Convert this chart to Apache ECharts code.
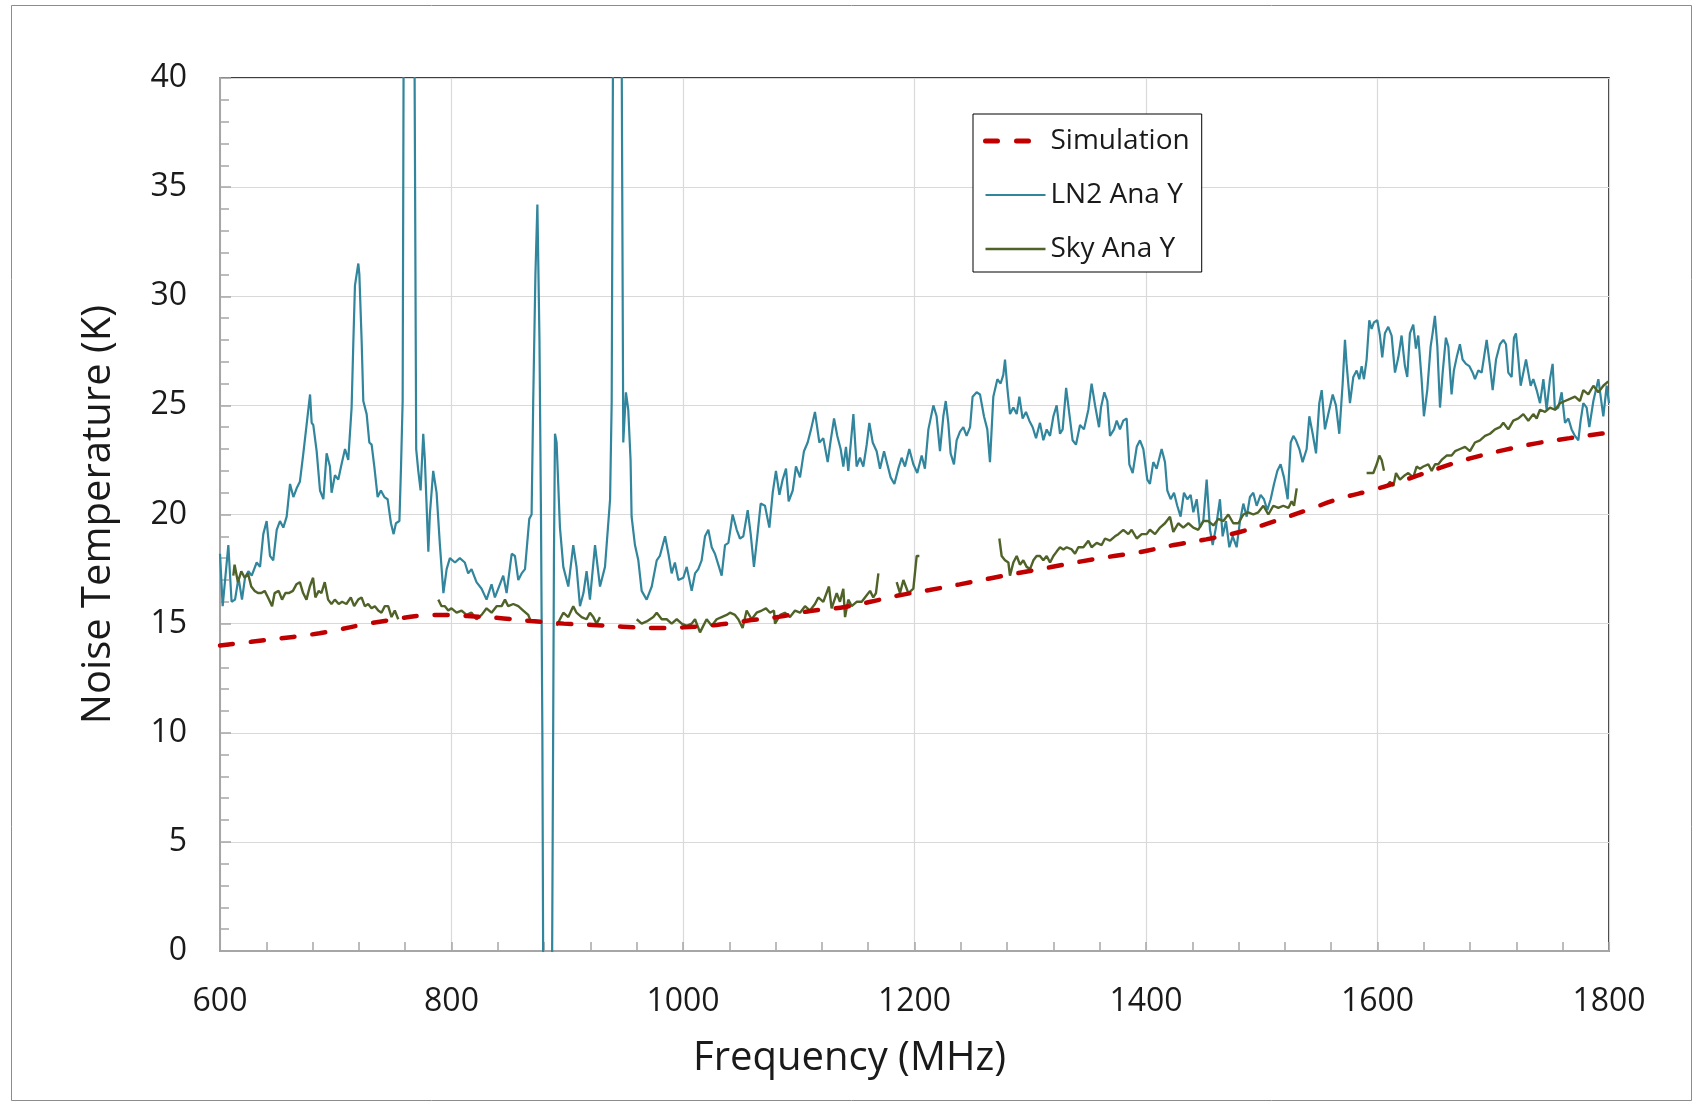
<!DOCTYPE html>
<html>
<head>
<meta charset="utf-8">
<script src="https://cdn.jsdelivr.net/npm/echarts@6/dist/echarts.min.js"></script>
<style>
  html, body { margin: 0; padding: 0; background: #fff; }
  #chart { width: 1693px; height: 1104px; }
</style>
</head>
<body>
<div id="chart"></div>
<script>
// ---- Data ----
const xTicks = [600, 800, 1000, 1200, 1400, 1600, 1800];
const yTicks = [0, 5, 10, 15, 20, 25, 30, 35, 40];

const simFreq = [600, 640, 686, 738, 790, 813, 845, 869, 897, 922, 948, 976, 1000, 1029, 1055, 1084, 1110, 1136, 1162, 1187, 1213, 1239, 1265, 1291, 1317, 1343, 1369, 1395, 1424, 1452, 1481, 1510, 1539, 1568, 1598, 1628, 1657, 1680, 1709, 1737, 1766, 1791, 1800];
const simTemp = [14.0, 14.25, 14.56, 15.09, 15.4, 15.35, 15.24, 15.12, 15.0, 14.94, 14.86, 14.8, 14.83, 14.94, 15.13, 15.32, 15.58, 15.73, 16.0, 16.3, 16.54, 16.8, 17.07, 17.33, 17.58, 17.84, 18.07, 18.28, 18.6, 18.86, 19.2, 19.67, 20.2, 20.74, 21.15, 21.66, 22.19, 22.57, 22.95, 23.26, 23.5, 23.69, 23.75];

const ln2Freq = [600, 602.3, 607.2, 610, 613, 616, 619, 621.6, 624.5, 627.4, 631.7, 634.6, 637.4, 640.3, 643.2, 646, 649, 651.8, 654.7, 657.6, 660.5, 663.4, 666.2, 669, 672, 675, 677.8, 679.2, 680.6, 683.5, 686.4, 689.3, 692.1, 695, 696.4, 699.3, 702.2, 705, 708, 710.8, 713.7, 715.2, 716.6, 719.5, 720.4, 722.4, 723.8, 726.7, 729, 731, 733.3, 736.2, 739, 742, 744.8, 747.7, 750, 752, 755, 756.4, 757.8, 759, 767.5, 769.5, 771.3, 773.3, 775.6, 777, 780, 781.3, 784.2, 787.1, 790, 793, 795.8, 798.6, 803, 807.2, 811.5, 814.4, 817.3, 821.6, 826, 830.3, 834.6, 837.5, 840.4, 844.7, 847.6, 852, 854.8, 857.7, 860.6, 863.5, 867.2, 869.2, 870.6, 872.5, 874.2, 876, 877.3, 878.5, 879.5, 886.5, 887.4, 888.5, 889.4, 890.8, 893.7, 896.6, 900.9, 905.2, 908, 911, 914, 916.7, 919.6, 924, 928.3, 932.6, 937, 938.4, 940, 946.5, 948.4, 950.7, 952.7, 954.7, 955.6, 958.5, 961.4, 964.3, 968.6, 973, 977.3, 980, 984.5, 987.4, 990.2, 993, 996, 1000.3, 1003.2, 1007.5, 1010.4, 1013.2, 1016.1, 1019, 1021.9, 1024.8, 1027.6, 1030.5, 1033.4, 1036.3, 1039.2, 1042.9, 1046.4, 1049.2, 1052.1, 1055.9, 1058.5, 1061.3, 1064.2, 1067.1, 1070.8, 1074.6, 1077.5, 1080.3, 1083.3, 1086.1, 1089, 1091.3, 1094.8, 1097.6, 1101.1, 1104.5, 1107.7, 1110.6, 1114, 1117.8, 1121.2, 1125, 1127.6, 1130.5, 1133.3, 1136.2, 1138.5, 1140.8, 1142.8, 1145.7, 1147.2, 1150, 1152.9, 1155.8, 1158.7, 1161, 1163.9, 1167.3, 1170.2, 1173.7, 1176.5, 1179.4, 1182.6, 1186, 1188.9, 1191.8, 1195.5, 1199, 1202.4, 1206.2, 1209, 1212, 1216.3, 1219.1, 1222, 1224.9, 1227, 1229.2, 1231.2, 1234.1, 1236.4, 1239.3, 1242.2, 1245, 1248, 1250.2, 1253.7, 1256.6, 1260, 1262.9, 1265.2, 1268.1, 1271.6, 1274.4, 1276.7, 1278.2, 1280.2, 1282.5, 1285.4, 1288.3, 1290.6, 1293.4, 1296.3, 1299.2, 1302.1, 1305, 1308.4, 1311.3, 1314.2, 1317.1, 1320, 1322.8, 1325.7, 1328, 1331, 1333.8, 1336.6, 1339.5, 1343, 1346.4, 1350.2, 1353, 1356, 1359.4, 1361.1, 1364, 1366.6, 1368.9, 1372.4, 1374.7, 1377.5, 1380.4, 1383.3, 1385.6, 1388.5, 1392, 1394.8, 1397.7, 1401.1, 1403.4, 1406.3, 1409.2, 1413.5, 1416.4, 1418.4, 1421.3, 1424.2, 1427, 1429.9, 1432.8, 1435.7, 1438.6, 1440.9, 1443.8, 1446.6, 1449.5, 1452.4, 1455.3, 1457.6, 1460.4, 1463.9, 1466.2, 1469.1, 1472, 1474.9, 1478.3, 1481.2, 1484.1, 1487, 1489.8, 1492.7, 1495.6, 1499, 1501.9, 1504.8, 1507.7, 1510.6, 1513.5, 1516.3, 1519.2, 1522.4, 1525, 1527.3, 1529.6, 1532.5, 1535.3, 1538.8, 1541.1, 1544, 1546.9, 1549.7, 1551.8, 1554.6, 1557.5, 1561.3, 1564.1, 1567, 1569.9, 1571.9, 1573.3, 1576.2, 1579.1, 1582, 1584.3, 1586.3, 1588.3, 1590.6, 1592.9, 1594.9, 1596.9, 1599.8, 1602.1, 1604.1, 1606.4, 1609.3, 1612.2, 1615.1, 1618, 1620.8, 1623.7, 1625.7, 1628, 1630.9, 1633.2, 1635.2, 1638.1, 1640.1, 1643, 1645.9, 1647.6, 1649.6, 1651.7, 1654, 1656.3, 1659.1, 1661.2, 1664, 1666, 1668.4, 1671.2, 1673.5, 1676.4, 1679.3, 1682.2, 1684.2, 1687.1, 1690, 1692.3, 1694.3, 1697.2, 1699.5, 1702.4, 1705.8, 1708.7, 1711, 1713, 1715.9, 1717.9, 1719.6, 1721.6, 1723.7, 1726, 1728.3, 1730.3, 1732.3, 1734.6, 1737.5, 1740.4, 1743.3, 1746.1, 1749, 1751.3, 1753.3, 1756.2, 1759.1, 1762, 1764.9, 1767.7, 1770.6, 1773.5, 1775.5, 1777.8, 1780.7, 1783, 1786.5, 1790.8, 1795.1, 1798, 1800];
const ln2Temp = [18.2, 15.8, 18.6, 16.0, 16.1, 17.1, 16.1, 17.1, 17.4, 17.2, 17.8, 17.6, 19.1, 19.7, 18.1, 17.9, 19.3, 19.7, 19.4, 19.9, 21.4, 20.8, 21.2, 21.5, 22.8, 24.2, 25.5, 24.2, 24.1, 22.9, 21.1, 20.7, 22.8, 22.2, 21.0, 21.8, 21.6, 22.3, 23.0, 22.5, 24.9, 27.9, 30.5, 31.5, 31.0, 27.9, 25.2, 24.6, 23.3, 23.2, 22.2, 20.8, 21.1, 20.8, 20.7, 19.6, 19.1, 19.6, 19.7, 22.2, 25.2, 48, 48, 23.0, 22.0, 21.1, 23.7, 22.5, 18.3, 20.0, 22.0, 21.0, 18.6, 16.4, 17.5, 18.0, 17.8, 18.0, 17.8, 17.3, 17.5, 16.9, 16.6, 16.1, 16.8, 16.2, 16.6, 17.2, 16.4, 18.2, 18.1, 17.0, 17.3, 17.5, 19.8, 20.0, 25.2, 31.0, 34.2, 28.0, 20.0, 10.0, -5, -5, 5, 18.0, 23.7, 23.3, 19.4, 17.6, 16.7, 18.6, 17.6, 15.8, 16.4, 17.4, 16.1, 18.6, 16.7, 17.6, 20.7, 25.2, 48, 48, 23.3, 25.6, 24.8, 22.5, 19.9, 18.6, 17.9, 16.5, 16.1, 16.7, 17.9, 18.1, 19.0, 18.2, 17.3, 17.8, 17.0, 17.1, 17.6, 16.5, 17.3, 17.5, 17.9, 19.0, 19.3, 18.5, 18.2, 17.7, 17.2, 18.6, 18.7, 20.0, 19.3, 18.9, 19.0, 20.2, 19.1, 17.6, 19.0, 20.5, 20.4, 19.4, 21.0, 22.0, 20.9, 21.6, 22.1, 20.6, 21.1, 22.2, 21.7, 22.9, 23.3, 23.9, 24.7, 23.3, 23.5, 22.4, 23.4, 24.4, 23.6, 23.0, 22.2, 23.1, 22.0, 23.7, 24.6, 22.2, 22.6, 22.2, 23.2, 24.2, 23.3, 22.9, 22.1, 22.9, 22.3, 21.7, 21.4, 22.1, 22.6, 22.2, 23.0, 22.3, 21.9, 22.7, 22.1, 23.9, 25.0, 24.5, 22.9, 24.5, 25.2, 24.2, 22.8, 22.3, 23.4, 23.8, 24.0, 23.6, 24.0, 25.4, 25.6, 25.5, 24.5, 23.9, 22.4, 25.4, 26.2, 26.0, 26.4, 27.1, 25.8, 24.6, 24.9, 24.6, 25.4, 24.4, 24.7, 24.3, 24.0, 23.5, 24.2, 23.4, 23.9, 23.6, 24.5, 25.0, 23.7, 23.9, 25.8, 24.6, 23.4, 23.2, 24.1, 23.9, 24.8, 26.0, 25.0, 24.0, 24.9, 25.6, 25.2, 23.6, 23.9, 24.3, 23.9, 24.3, 24.4, 22.3, 21.9, 23.1, 23.4, 23.0, 21.6, 21.4, 22.4, 22.1, 23.0, 22.4, 21.1, 20.7, 21.0, 20.4, 19.9, 21.0, 20.7, 20.9, 20.1, 20.7, 19.4, 19.7, 21.6, 19.3, 18.6, 19.4, 20.7, 19.0, 19.7, 18.5, 19.0, 18.5, 19.7, 20.5, 19.9, 20.8, 21.0, 20.4, 20.9, 20.7, 20.2, 20.7, 21.4, 22.0, 22.3, 21.7, 20.7, 23.3, 23.6, 23.4, 23.0, 22.4, 23.0, 24.5, 23.7, 22.8, 25.1, 25.7, 23.9, 24.6, 25.5, 25.0, 23.7, 26.0, 28.0, 26.9, 25.1, 26.3, 26.6, 26.2, 26.8, 26.2, 27.1, 28.9, 28.5, 28.8, 28.9, 28.2, 27.2, 28.3, 28.6, 28.2, 26.5, 27.2, 28.2, 26.8, 26.3, 28.3, 28.7, 27.6, 28.2, 26.2, 24.5, 25.7, 27.7, 28.3, 29.1, 27.7, 24.9, 26.5, 28.1, 27.7, 25.5, 26.6, 27.2, 27.8, 27.1, 26.9, 26.8, 26.5, 26.2, 26.6, 26.5, 27.3, 28.0, 26.8, 25.7, 27.1, 27.8, 28.0, 27.8, 26.5, 26.3, 28.1, 28.3, 27.2, 25.9, 26.5, 27.1, 26.5, 25.9, 26.2, 25.7, 25.1, 26.2, 24.8, 26.2, 26.9, 24.8, 24.9, 25.6, 24.2, 24.4, 23.9, 23.6, 23.4, 24.3, 25.1, 24.9, 24.0, 25.2, 26.2, 24.5, 25.9, 25.1];

// null marks a gap between measured segments
const skyFreq = [611.5, 612.6, 615.5, 618.4, 621.3, 624.2, 627, 630, 632.8, 635.7, 638.6, 641.5, 645, 647.2, 650.7, 653.6, 656.5, 659.4, 663, 666, 669, 671.8, 674.7, 677.6, 680.4, 682.4, 685.3, 687.6, 690.5, 693.4, 696.3, 699.2, 702.6, 705.5, 709.2, 713, 715.9, 719.4, 722.3, 725.1, 728, 730.9, 733.8, 736.7, 739.5, 742.4, 745.3, 748.2, 751, 754, 770,
  788.6, 791.4, 794.3, 797.2, 800, 804.4, 808.7, 813, 817.3, 821.6, 826, 830.3, 834.6, 839, 843.3, 846.2, 849, 853.4, 857.7, 862, 866.3, 867.8, 880,
  890.8, 893.7, 896.6, 900.9, 905.2, 908, 912.4, 916.7, 919.6, 922.5, 925.4, 928.3, 945,
  960, 964.3, 968.6, 974.4, 977.3, 981.6, 985.9, 990.2, 994.6, 998.9, 1003.2, 1007.5, 1010.4, 1014.7, 1020.4, 1024.8, 1029.1, 1033.4, 1037.7, 1040.6, 1044.9, 1047.8, 1051.5, 1055, 1059.3, 1063.6, 1068, 1071.7, 1075.2, 1078.6, 1079.5, 1084, 1088, 1092.4, 1096.8, 1101.1, 1105.4, 1109.7, 1114, 1116.9, 1121.2, 1126.1, 1128.4, 1132.8, 1135.6, 1138.5, 1140, 1142.8, 1145.7, 1150, 1154.4, 1157.2, 1161.6, 1164.4, 1166.7, 1168.8, 1176,
  1184.6, 1187.5, 1190.4, 1194.7, 1199, 1201.9, 1204.2, 1240,
  1273.3, 1275.3, 1278.2, 1281.1, 1282.5, 1285.4, 1288.3, 1291.1, 1294, 1296.9, 1299.8, 1302.7, 1305.5, 1308.4, 1311.3, 1314.2, 1317.1, 1320, 1322.8, 1325.7, 1328.6, 1331.5, 1335.8, 1338.7, 1341.5, 1345.9, 1350.2, 1353, 1357.4, 1361.7, 1364.6, 1368.9, 1373.2, 1376.1, 1380.4, 1384.7, 1387.6, 1392, 1396.3, 1400.6, 1403.4, 1407.8, 1412.1, 1416.4, 1420.7, 1423.6, 1427.9, 1432.2, 1436.6, 1440.9, 1445.2, 1449.5, 1453.8, 1458.2, 1462.5, 1466.8, 1471.1, 1475.4, 1479.8, 1484.1, 1488.4, 1492.7, 1497, 1501.4, 1505.7, 1510, 1514.3, 1518.6, 1523, 1525.8, 1527.9, 1530.2, 1560,
  1590.6, 1596.4, 1599.3, 1601.6, 1603.6, 1605.6, 1606.8,
  1607.9, 1610.8, 1613.7, 1616, 1619.4, 1623.7, 1626.6, 1630.9, 1633.8, 1636.7, 1639.6, 1643.9, 1646.8, 1649.7, 1652.5, 1655.4, 1659.7, 1664, 1667, 1671.3, 1675.6, 1679.9, 1684.2, 1688.5, 1692.9, 1697.2, 1701.5, 1705.8, 1708.7, 1713, 1717.3, 1721.7, 1726, 1730.3, 1734.6, 1737.5, 1740.4, 1744.7, 1749, 1753.3, 1757.7, 1762, 1766.3, 1770.6, 1774.9, 1777.8, 1782.1, 1786.5, 1790.8, 1795.1, 1799.4];
const skyTemp = [17.2, 17.7, 16.9, 17.4, 17.1, 17.3, 16.7, 16.5, 16.4, 16.4, 16.5, 16.2, 15.8, 16.4, 16.5, 16.1, 16.4, 16.4, 16.5, 16.8, 16.9, 16.4, 16.1, 16.7, 17.1, 16.2, 16.5, 16.4, 16.9, 16.1, 15.9, 16.1, 15.9, 16.0, 15.9, 16.2, 15.8, 16.1, 16.2, 15.8, 15.9, 15.7, 15.8, 15.6, 15.5, 15.8, 15.8, 15.3, 15.6, 15.2, null,
  16.1, 15.8, 15.8, 15.6, 15.7, 15.5, 15.6, 15.4, 15.5, 15.2, 15.4, 15.7, 15.5, 15.8, 15.8, 16.1, 15.8, 15.9, 15.8, 15.6, 15.4, 15.2, null,
  14.9, 15.2, 15.5, 15.3, 15.8, 15.5, 15.3, 15.2, 15.5, 15.3, 15.0, 15.3, null,
  15.2, 15.0, 15.1, 15.3, 15.5, 15.2, 15.2, 15.0, 15.2, 15.0, 14.9, 15.0, 15.2, 14.6, 15.2, 14.9, 15.2, 15.3, 15.4, 15.5, 15.4, 15.2, 14.8, 15.6, 15.2, 15.5, 15.6, 15.7, 15.5, 15.6, 15.0, 15.4, 15.5, 15.3, 15.6, 15.5, 15.8, 15.6, 15.9, 16.2, 16.0, 16.7, 15.7, 16.4, 16.0, 16.6, 15.3, 16.1, 15.8, 16.0, 16.0, 16.2, 16.5, 16.2, 16.4, 17.3, null,
  16.9, 16.4, 17.0, 16.4, 16.6, 18.1, 18.1, null,
  18.9, 18.1, 17.9, 17.8, 17.2, 17.8, 18.1, 17.7, 17.9, 17.6, 17.5, 17.9, 18.1, 18.1, 17.9, 18.1, 17.8, 18.1, 18.3, 18.5, 18.4, 18.5, 18.4, 18.2, 18.5, 18.5, 18.8, 18.5, 18.7, 18.6, 18.9, 18.8, 19.0, 19.1, 19.3, 19.1, 19.3, 18.9, 19.1, 19.1, 19.3, 19.1, 19.4, 19.6, 19.9, 19.2, 19.6, 19.4, 19.6, 19.4, 19.3, 19.7, 19.7, 19.5, 19.8, 19.7, 20.0, 19.6, 19.6, 20.0, 20.1, 20.0, 20.1, 20.4, 20.0, 20.4, 20.3, 20.4, 20.3, 20.6, 20.4, 21.2, null,
  21.9, 21.9, 22.3, 22.7, 22.5, 22.0, null,
  21.3, 21.5, 21.3, 21.9, 21.6, 21.8, 21.9, 21.7, 22.2, 22.1, 22.2, 22.3, 22.0, 22.3, 22.3, 22.5, 22.7, 22.7, 22.9, 23.0, 23.1, 22.9, 23.3, 23.4, 23.6, 23.7, 23.9, 24.0, 24.2, 23.9, 24.3, 24.4, 24.6, 24.3, 24.6, 24.4, 24.8, 24.7, 24.9, 24.8, 25.1, 25.2, 25.3, 25.4, 25.2, 25.7, 25.5, 25.9, 25.6, 25.9, 26.1];

const seriesNames = ['Simulation', 'LN2 Ana Y', 'Sky Ana Y'];

// ---- Build ----
function pairs(xs, ys) {
  return xs.map((x, i) => [x, ys[i] === null ? '-' : ys[i]]);
}

const chart = echarts.init(document.getElementById('chart'), null, { renderer: 'canvas' });
const FONT = '"Open Sans", "Noto Sans", sans-serif';

chart.setOption({
  animation: false,
  backgroundColor: '#ffffff',
  graphic: [{
    type: 'rect', z: -10, silent: true,
    shape: { x: 11.5, y: 5.5, width: 1680, height: 1095 },
    style: { fill: 'none', stroke: '#8c8c8c', lineWidth: 1 }
  }],
  grid: {
    left: 220, right: 84, top: 78, bottom: 153,
    show: true, borderColor: '#000', borderWidth: 1.5, backgroundColor: 'transparent'
  },
  legend: {
    orient: 'vertical',
    left: 973, top: 114,
    padding: [10, 12, 6, 10],
    backgroundColor: '#fff',
    borderColor: '#000', borderWidth: 1,
    itemWidth: 60, itemHeight: 14, itemGap: 20,
    itemStyle: { opacity: 0 },
    textStyle: { fontFamily: FONT, fontSize: 28, color: '#1a1a1a', lineHeight: 34 },
    data: [
      { name: seriesNames[0], lineStyle: { width: 5, type: [12, 19], cap: 'round', color: '#c00000' }, itemStyle: { opacity: 0 } },
      { name: seriesNames[1], lineStyle: { width: 2.2, color: '#31859c' }, itemStyle: { opacity: 0 } },
      { name: seriesNames[2], lineStyle: { width: 2.4, color: '#4f6228' }, itemStyle: { opacity: 0 } }
    ]
  },
  xAxis: {
    type: 'value', min: xTicks[0], max: xTicks[xTicks.length - 1], interval: 200,
    name: 'Frequency (MHz)', nameLocation: 'middle', nameGap: 88,
    nameTextStyle: { fontFamily: FONT, fontSize: 40, color: '#1a1a1a', padding: [0, 130, 0, 0] },
    axisLine: { show: true, onZero: false, lineStyle: { color: '#a6a6a6', width: 2 } },
    axisTick: { show: true, inside: true, length: 9, lineStyle: { color: '#a6a6a6', width: 1.5 } },
    minorTick: { show: true, splitNumber: 5, length: 9, lineStyle: { color: '#a6a6a6', width: 1.5 } },
    axisLabel: { fontFamily: FONT, fontSize: 32, color: '#1a1a1a', margin: 35, formatter: v => String(v) },
    splitLine: { show: true, lineStyle: { color: '#d9d9d9', width: 1.2 } }
  },
  yAxis: {
    type: 'value', min: yTicks[0], max: yTicks[yTicks.length - 1], interval: 5,
    name: 'Noise Temperature (K)', nameLocation: 'middle', nameGap: 101, nameRotate: 90,
    nameTextStyle: { fontFamily: FONT, fontSize: 40, color: '#1a1a1a' },
    axisLine: { show: true, lineStyle: { color: '#a6a6a6', width: 2 } },
    axisTick: { show: true, inside: true, length: 11, lineStyle: { color: '#a6a6a6', width: 1.5 } },
    minorTick: { show: true, splitNumber: 5, length: 9, lineStyle: { color: '#a6a6a6', width: 1.5 } },
    axisLabel: { fontFamily: FONT, fontSize: 32, color: '#1a1a1a', margin: 33, formatter: v => String(v) },
    splitLine: { show: true, lineStyle: { color: '#d9d9d9', width: 1.2 } }
  },
  series: [
    {
      name: seriesNames[0], type: 'line', z: 5,
      data: pairs(simFreq, simTemp), smooth: 0.4, showSymbol: false, symbol: 'none',
      lineStyle: { color: '#c00000', width: 4.5, type: [13, 18], cap: 'round' },
      itemStyle: { color: '#c00000' }
    },
    {
      name: seriesNames[1], type: 'line', z: 3, clip: true,
      data: pairs(ln2Freq, ln2Temp), showSymbol: false, symbol: 'none',
      lineStyle: { color: '#31859c', width: 2.2 },
      itemStyle: { color: '#31859c' }
    },
    {
      name: seriesNames[2], type: 'line', z: 4, clip: true, connectNulls: false,
      data: pairs(skyFreq, skyTemp), showSymbol: false, symbol: 'none',
      lineStyle: { color: '#4f6228', width: 2.4 },
      itemStyle: { color: '#4f6228' }
    }
  ]
});
</script>
</body>
</html>
